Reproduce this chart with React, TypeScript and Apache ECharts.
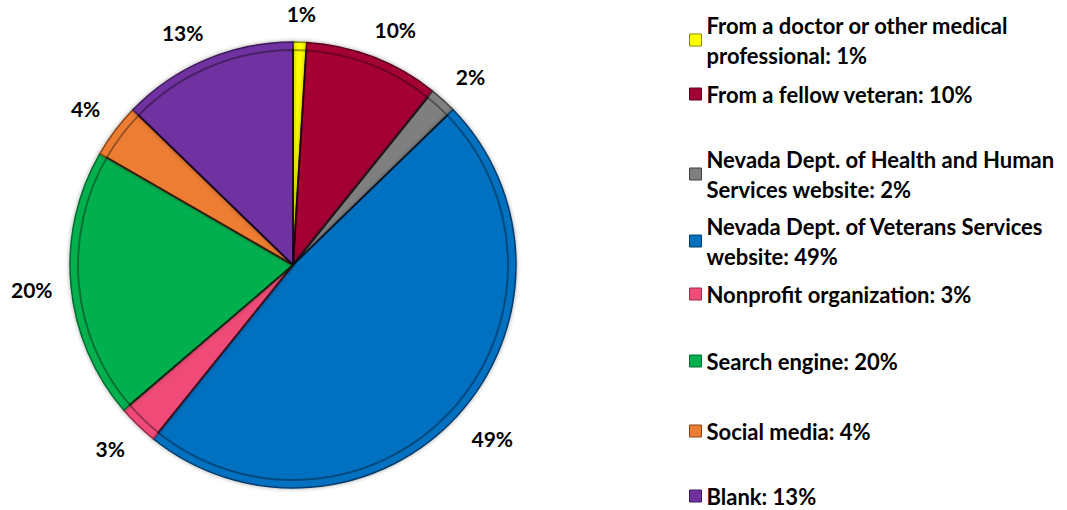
import React, { useEffect, useRef } from "react";
import * as echarts from "echarts";

const categories = [
  "From a doctor or other medical professional",
  "From a fellow veteran",
  "Nevada Dept. of Health and Human Services website",
  "Nevada Dept. of Veterans Services website",
  "Nonprofit organization",
  "Search engine",
  "Social media",
  "Blank",
];
const values = [1, 10, 2, 49, 3, 20, 4, 13];
const colors = ["#FFFF00", "#A50034", "#7F7F7F", "#0070C0", "#F04C78", "#00B050", "#ED7D31", "#7030A0"];
const borderColors = ["#8A8A00", "#5A001C", "#3F3F3F", "#003C6A", "#9A2A48", "#006A30", "#8A4418", "#3E1A5A"];
const twoLine = [true, false, true, true, false, false, false, false];
const lineCenters = [27, 95, 161, 228, 295, 362, 432, 497];

const CX = 293;
const CY = 265;
const R = 223;
const GAP = 18.5;
const FONT = "Lato, 'Open Sans', sans-serif";

export default function App() {
  const ref = useRef<HTMLDivElement>(null);
  useEffect(() => {
    if (!ref.current) return;
    const chart = echarts.init(ref.current, undefined, { renderer: "svg" });
    const total = values.reduce((a, b) => a + b, 0);
    const data = categories.map((name, i) => ({
      name,
      value: values[i],
      itemStyle: { color: colors[i], borderColor: borderColors[i] },
    }));
    const legends = categories.map((name, i) => ({
      data: [name],
      left: 684,
      top: twoLine[i] ? lineCenters[i] - 37 : lineCenters[i] - 21,
      orient: "vertical",
      selectedMode: false,
      itemWidth: 12,
      itemHeight: 12,
      icon: "rect",
      itemStyle: { borderColor: borderColors[i], borderWidth: 1 },
      formatter: (n: string) => `${n}: ${values[categories.indexOf(n)]}%`,
      textStyle: {
        fontFamily: FONT,
        fontWeight: "bold",
        fontSize: 22,
        lineHeight: 30,
        color: "#000",
        width: 365,
        overflow: "break",
        padding: twoLine[i] ? [30, 0, 0, 0] : 0,
      },
    }));
    const soft = (v: number) => Math.max(-1, Math.min(1, v * 2));
    chart.setOption({
      animation: false,
      backgroundColor: "#fff",
      legend: legends,
      series: [
        {
          type: "pie",
          center: [CX, CY],
          radius: R,
          startAngle: 90,
          clockwise: true,
          avoidLabelOverlap: false,
          data,
          itemStyle: {
            borderWidth: 1.5,
            shadowBlur: 4,
            shadowColor: "rgba(0,0,0,0.35)",
          },
          label: {
            show: true,
            position: "outside",
            formatter: "{c}%",
            fontFamily: FONT,
            fontWeight: "bold",
            fontSize: 21,
            lineHeight: 21,
            color: "#000",
          },
          labelLine: { show: false },
          labelLayout: (p: any) => {
            const i = p.dataIndex;
            let cum = 0;
            for (let j = 0; j < i; j++) cum += values[j];
            const mid = ((cum + values[i] / 2) / total) * Math.PI * 2;
            const dx = Math.sin(mid);
            const dy = -Math.cos(mid);
            const d = R + GAP;
            const w = p.labelRect.width;
            const h = p.labelRect.height;
            return {
              x: CX + d * dx + (w / 2) * soft(dx),
              y: CY + d * dy + (h / 2) * soft(dy),
              align: "center",
              verticalAlign: "middle",
            };
          },
          emphasis: { disabled: true },
        },
        {
          type: "pie",
          center: [CX, CY],
          radius: R - 8,
          startAngle: 90,
          clockwise: true,
          silent: true,
          data: categories.map((name, i) => ({ name: name + " ", value: values[i] })),
          itemStyle: {
            color: "rgba(0,0,0,0)",
            borderColor: "rgba(0,0,0,0.35)",
            borderWidth: 2,
          },
          label: { show: false },
          labelLine: { show: false },
          emphasis: { disabled: true },
        },
      ],
    });
    return () => chart.dispose();
  }, []);
  return (
    <div
      ref={ref}
      style={{ position: "absolute", left: 0, top: 0, width: 1067, height: 510 }}
    />
  );
}
